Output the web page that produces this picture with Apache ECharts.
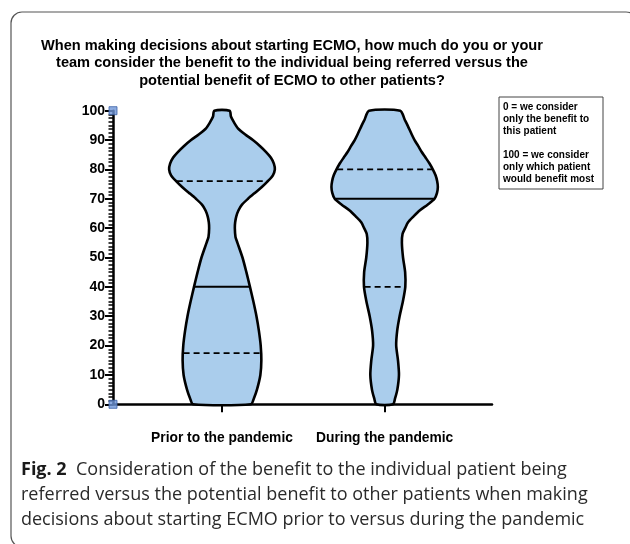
<!DOCTYPE html>
<html>
<head>
<meta charset="utf-8">
<script src="https://cdn.jsdelivr.net/npm/echarts@6/dist/echarts.min.js"></script>
<style>
  html, body { margin: 0; padding: 0; background: #fff; }
  #chart { width: 630px; height: 544px; }
</style>
</head>
<body>
<div id="chart"></div>
<script>
// ---------- DATA ----------
const categories = ['Prior to the pandemic', 'During the pandemic'];

// y levels (score 0-100) and violin half-widths (in x-axis category units)
const priorLevels = [0, 2, 5, 10, 15, 20, 25, 30, 35, 40, 45, 50, 55, 57, 60, 62, 64, 66, 68, 70, 72, 74, 76, 78, 80, 82, 84, 86, 88, 90, 92, 94, 96, 98, 100];
const priorHalfWidth = [0.178, 0.196, 0.215, 0.236, 0.242, 0.238, 0.227, 0.212, 0.193, 0.172, 0.150, 0.126, 0.095, 0.083, 0.079, 0.081, 0.088, 0.101, 0.123, 0.160, 0.202, 0.245, 0.282, 0.313, 0.325, 0.319, 0.301, 0.270, 0.233, 0.190, 0.141, 0.098, 0.074, 0.055, 0.047];

const duringLevels = [0, 2, 5, 10, 15, 20, 25, 30, 35, 40, 45, 50, 55, 58, 60, 62, 64, 66, 68, 70, 72, 74, 76, 78, 80, 82, 84, 86, 88, 90, 92, 95, 97, 100];
const duringHalfWidth = [0.051, 0.064, 0.078, 0.088, 0.082, 0.071, 0.077, 0.092, 0.112, 0.127, 0.126, 0.113, 0.106, 0.110, 0.126, 0.144, 0.178, 0.215, 0.264, 0.307, 0.322, 0.327, 0.323, 0.313, 0.296, 0.276, 0.252, 0.227, 0.206, 0.184, 0.166, 0.141, 0.123, 0.096];

// quartiles [Q1, median, Q3]
const priorQuartiles = [17.4, 40, 76];
const duringQuartiles = [40, 70, 80];

const titleLines = [
  'When making decisions about starting ECMO, how much do you or your',
  'team consider the benefit to the individual being referred versus the',
  'potential benefit of ECMO to other patients?'
];
const noteLines = [
  '0 = we consider', 'only the benefit to', 'this patient', '',
  '100 = we consider', 'only which patient', 'would benefit most'
];
const captionBold = 'Fig. 2';
const captionLines = [
  'Consideration of the benefit to the individual patient being',
  'referred versus the potential benefit to other patients when making',
  'decisions about starting ECMO prior to versus during the pandemic'
];

// ---------- CHART ----------
const violinLevels = [priorLevels, duringLevels];
const violinHalf = [priorHalfWidth, duringHalfWidth];
const violinQuart = [priorQuartiles, duringQuartiles];
const X_MIN = -0.67, X_MAX = 1.66;

function halfAt(levels, hw, y) {
  for (let k = 0; k < levels.length - 1; k++) {
    if (y >= levels[k] && y <= levels[k + 1]) {
      const t = (y - levels[k]) / (levels[k + 1] - levels[k]);
      return hw[k] + t * (hw[k + 1] - hw[k]);
    }
  }
  return hw[hw.length - 1];
}

function renderViolin(params, api) {
  const i = params.dataIndex;
  const levels = violinLevels[i], hw = violinHalf[i], q = violinQuart[i];
  const right = levels.map((y, k) => api.coord([i + hw[k], y]));
  const left = levels.map((y, k) => api.coord([i - hw[k], y])).reverse();
  const pts = right.concat(left);
  const children = [{
    type: 'polygon',
    shape: { points: pts, smooth: 0.25 },
    style: { fill: '#aacdec', stroke: '#000', lineWidth: 2.6 }
  }];
  q.forEach((yv, idx) => {
    const h = halfAt(levels, hw, yv) - 0.004;
    const a = api.coord([i - h, yv]), b = api.coord([i + h, yv]);
    children.push({
      type: 'line',
      shape: { x1: a[0], y1: a[1], x2: b[0], y2: b[1] },
      style: { stroke: '#000', lineWidth: idx === 1 ? 2 : 1.8, lineDash: idx === 1 ? null : [6, 4] }
    });
  });
  return { type: 'group', children };
}

const chart = echarts.init(document.getElementById('chart'), null, { renderer: 'canvas' });
const FONT = '"Liberation Sans", Arial, sans-serif';
const CAP_FONT = '"Open Sans", "Noto Sans", sans-serif';

const captionText = '{b|' + captionBold + '}{r|  ' + captionLines[0] + '}\n{r|' + captionLines[1] + '}\n{r|' + captionLines[2] + '}';

chart.setOption({
  animation: false,
  backgroundColor: '#fff',
  title: {
    text: titleLines.join('\n'),
    left: 287,
    top: 32,
    textAlign: 'center',
    textStyle: { fontFamily: FONT, fontWeight: 'bold', fontSize: 14.6, lineHeight: 17.5, color: '#000' }
  },
  grid: { left: 113, right: 138, top: 110.7, bottom: 139.7, containLabel: false },
  xAxis: {
    type: 'value', min: X_MIN, max: X_MAX,
    splitLine: { show: false },
    axisLine: { onZero: false, lineStyle: { color: '#000', width: 2.5 } },
    axisTick: { show: true, customValues: [0, 1], length: 8, lineStyle: { color: '#000', width: 2 } },
    axisLabel: {
      customValues: [0, 1], margin: 27,
      formatter: v => categories[Math.round(v)] || '',
      fontFamily: FONT, fontWeight: 'bold', fontSize: 13.8, color: '#000'
    }
  },
  yAxis: {
    type: 'value', min: 0, max: 100, interval: 10,
    splitLine: { show: false },
    axisLine: { show: true, onZero: false, lineStyle: { color: '#000', width: 2.5 } },
    axisTick: { show: true, length: 8, lineStyle: { color: '#000', width: 2 } },
    minorTick: { show: true, splitNumber: 8, length: 4.5, lineStyle: { color: '#000', width: 1.5 } },
    axisLabel: {
      margin: 8, fontFamily: FONT, fontWeight: 'bold', fontSize: 14, color: '#000'
    }
  },
  series: [
    {
      type: 'custom',
      renderItem: renderViolin,
      data: categories.map((c, i) => [i]),
      encode: { x: 0 },
      clip: false,
      z: 2
    },
    {
      type: 'scatter',
      data: [[X_MIN, 0], [X_MIN, 100]],
      symbol: 'rect', symbolSize: 8,
      itemStyle: { color: '#6f96d8', borderColor: '#3d63a8', borderWidth: 1 },
      clip: false, z: 5, silent: true
    }
  ],
  graphic: [
    {
      type: 'rect', silent: true,
      shape: { x: 11, y: 12, width: 626, height: 535, r: 11 },
      style: { fill: 'none', stroke: '#555', lineWidth: 1.2 }
    },
    {
      type: 'rect', silent: true,
      shape: { x: 499, y: 97, width: 104, height: 92 },
      style: { fill: '#fff', stroke: '#444', lineWidth: 1 }
    },
    {
      type: 'text', silent: true, left: 503, top: 101,
      style: { text: noteLines.join('\n'), font: 'bold 10px ' + FONT, lineHeight: 12.1, fill: '#000' }
    },
    {
      type: 'text', silent: true, left: 21, top: 461,
      style: {
        text: captionText,
        rich: {
          b: { fontFamily: CAP_FONT, fontWeight: 'bold', fontSize: 18, lineHeight: 25, fill: '#1a1a1a' },
          r: { fontFamily: CAP_FONT, fontWeight: 'normal', fontSize: 18, lineHeight: 25, fill: '#2a2a2a' }
        }
      }
    }
  ]
});
</script>
</body>
</html>
